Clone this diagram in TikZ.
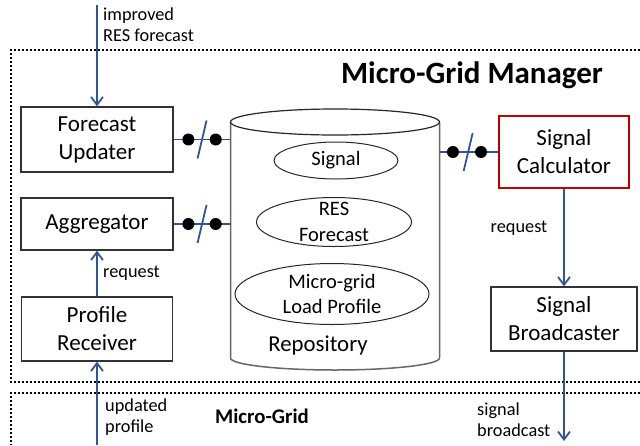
\documentclass[tikz,border=0pt]{standalone}
\usepackage{fontspec}
\setmainfont{Carlito}
\usetikzlibrary{arrows.meta,calc}
\definecolor{linkblue}{RGB}{47,85,151}
\definecolor{calcred}{RGB}{192,0,0}
\begin{document}
\begin{tikzpicture}[x=1pt,y=-1pt,
  box/.style={draw=black!80, line width=1.2pt, fill=white, align=center, inner sep=0pt,
    font=\fontsize{23}{28}\selectfont},
  storetext/.style={align=center, inner sep=0pt, font=\fontsize{20.5}{25.5}\selectfont},
  storeline/.style={draw=black!85, line width=1pt},
  flow/.style={draw=linkblue, line width=1.8pt,
    -{Straight Barb[length=8pt,width=12pt,line width=1.8pt]}},
  link/.style={draw=linkblue, line width=1.8pt},
  joint/.style={circle, fill=black, inner sep=0pt, minimum size=12pt},
  lbl/.style={anchor=west, align=left, inner sep=0pt, font=\fontsize{18.3}{21}\selectfont},
  frame/.style={line width=2pt, dash pattern=on 2pt off 2pt}
]
\useasboundingbox (0,0) rectangle (640,445);

% dotted frames: manager area and micro-grid area
\draw[frame] (640,50) -- (11,50) -- (11,382) -- (640,382);
\draw[frame] (640,393) -- (11,393) -- (11,445);

\node[font=\bfseries\fontsize{31}{36}\selectfont] (mgm) at (472,75) {Micro-Grid Manager};
\node[font=\bfseries\fontsize{20.8}{25}\selectfont] (mg) at (262,416) {Micro-Grid};

% repository cylinder
\draw[draw=black!60, line width=1.5pt] (230.5,122) -- (230.5,358)
  .. controls (230.5,364.6) and (277.2,370) .. (335,370)
  .. controls (392.8,370) and (439.5,364.6) .. (439.5,358) -- (439.5,122);
\draw[draw=black!85, line width=1.2pt] (335,122) ellipse [x radius=104.5, y radius=13];
\coordinate (repoW) at (230.5,0);
\coordinate (repoE) at (439.5,0);
\node[storetext] (repo) at (318,345) {\fontsize{22.8}{27}\selectfont Repository};

% stored items
\node[storetext] (sig) at (336,160.5) {Signal};
\draw[storeline] (sig.center) ellipse [x radius=62, y radius=18.5];
\node[storetext] (res) at (334,222) {RES\\Forecast};
\draw[storeline] (res.center) ellipse [x radius=77.5, y radius=24.5];
\node[storetext] (load) at (332,294) {Micro-grid\\Load Profile};
\draw[storeline] (load.center) ellipse [x radius=97, y radius=30.5];

% components
\node[box, minimum width=152pt, minimum height=65pt] (fu) at (97,139.5) {Forecast\\Updater};
\node[box, minimum width=152pt, minimum height=52pt] (agg) at (97,224) {Aggregator};
\node[box, minimum width=151pt, minimum height=64pt] (pr) at (97,329) {Profile\\Receiver};
\node[box, draw=calcred, line width=2pt, minimum width=130pt, minimum height=72pt] (sc) at (564,152) {Signal\\Calculator};
\node[box, minimum width=146pt, minimum height=64pt] (sb) at (564,319) {Signal\\Broadcaster};

% repository links
\draw[link] (fu.east) -- (fu.east -| repoW)
  node[joint,pos=0.26]{} node[joint,pos=0.74]{} coordinate[pos=0.5] (fuM);
\draw[link] ($(fuM)+(4.5,-19)$) -- ($(fuM)+(-4.5,19)$);
\draw[link] (agg.east) -- (agg.east -| repoW)
  node[joint,pos=0.26]{} node[joint,pos=0.74]{} coordinate[pos=0.5] (aggM);
\draw[link] ($(aggM)+(4.5,-19)$) -- ($(aggM)+(-4.5,19)$);
\draw[link] (sc.west -| repoE) -- (sc.west)
  node[joint,pos=0.23]{} node[joint,pos=0.71]{} coordinate[pos=0.49] (scM);
\draw[link] ($(scM)+(4.5,-19)$) -- ($(scM)+(-4.5,19)$);

% message flows
\coordinate (topIn) at (97,5);
\coordinate (botIn) at (97,445);
\coordinate (botOut) at (564,441);
\draw[flow] (topIn) -- (fu.north);
\draw[flow] (pr.north) -- (agg.south);
\draw[flow] (botIn) -- (pr.south);
\draw[flow] (sc.south) -- (sb.north);
\draw[flow] (sb.south) -- (botOut);

\node[lbl] (l1) at (103,25) {improved\\RES forecast};
\node[lbl] (l2) at (103,273) {request};
\node[lbl] (l3) at (105,417.5) {updated\\profile};
\node[lbl] (l4) at (477,420) {signal\\broadcast};
\node[lbl, anchor=center] (l5) at (519,228) {request};
\end{tikzpicture}
\end{document}
